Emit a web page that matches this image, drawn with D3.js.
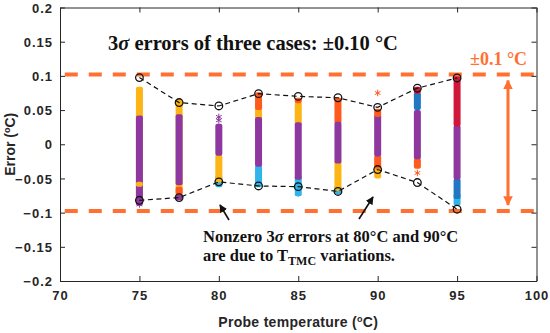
<!DOCTYPE html>
<html lang="en">
<head>
    <meta charset="UTF-8">
    <title>3 sigma errors</title>
    <style>
        body { margin: 0; background: #fff; }
        .tick text { font-family: "Liberation Sans", Arial, sans-serif; font-weight: bold; font-size: 13px; fill: #262626; letter-spacing: 1px; }
        .serif { font-family: "Liberation Serif", "Times New Roman", serif; font-weight: bold; }
    </style>
</head>
<body>
    <svg width="550" height="333"></svg>

    <script src="https://d3js.org/d3.v7.min.js"></script>
    <script>
        // Probe temperatures
        const temps = [75, 77.5, 80, 82.5, 85, 87.5, 90, 92.5, 95];

        // 3 sigma envelope (circles + dashed lines)
        const upper3s = [0.0975, 0.061, 0.056, 0.074, 0.070, 0.068, 0.054, 0.082, 0.097];
        const lower3s = [-0.082, -0.078, -0.055, -0.061, -0.062, -0.069, -0.037, -0.056, -0.095];

        // Scatter columns, read as bands: [temp, colour key, min, max], drawn in order
        const bands = [
            [75, "gold", -0.086, 0.084], [75, "purple", -0.090, 0.042], [75, "gold", -0.062, -0.055],
            [77.5, "gold", -0.080, 0.066], [77.5, "purple", -0.060, 0.044], [77.5, "orange", -0.074, -0.062],
            [77.5, "purple", -0.082, -0.074],
            [80, "lblue", -0.063, -0.045], [80, "gold", -0.056, -0.015], [80, "purple", -0.017, 0.030],
            [82.5, "lblue", -0.063, -0.030], [82.5, "gold", 0.030, 0.060], [82.5, "orange", 0.050, 0.076],
            [82.5, "purple", -0.033, 0.040],
            [85, "lblue", -0.076, -0.045], [85, "gold", 0.028, 0.062], [85, "orange", 0.060, 0.068],
            [85, "purple", -0.052, 0.032],
            [87.5, "lblue", -0.073, -0.060], [87.5, "gold", -0.068, -0.024], [87.5, "orange", 0.030, 0.068],
            [87.5, "purple", -0.028, 0.033],
            [90, "gold", -0.050, -0.028], [90, "orange", -0.036, -0.016], [90, "purple", -0.018, 0.044],
            [90, "orange", 0.040, 0.052],
            [92.5, "orange", -0.036, -0.020], [92.5, "purple", -0.022, 0.050], [92.5, "blue", 0.050, 0.076],
            [92.5, "red", 0.074, 0.084],
            [95, "lblue", -0.090, -0.072], [95, "blue", -0.080, -0.050], [95, "purple", -0.052, 0.028],
            [95, "red", 0.026, 0.101]
        ];

        // Stray asterisks outside the columns: [temp, colour key, value]
        const strays = [[90, "orange", 0.075], [92.5, "orange", -0.042], [80, "purple", 0.040], [80, "purple", 0.035],
                        [85, "lblue", -0.072], [75, "purple", -0.088]];

        const xTicks = [70, 75, 80, 85, 90, 95, 100];
        const yTicks = [-0.2, -0.15, -0.1, -0.05, 0, 0.05, 0.1, 0.15, 0.2];
        const limitLines = [0.102, -0.0975];

        const palette = {
            gold: "#FDB515", purple: "#8E379E", orange: "#FF5A1E", lblue: "#2FB5EA",
            blue: "#1F78C1", red: "#D0173A"
        };

        const svg = d3.select("svg");
        const margin = { left: 60, right: 13.5, top: 7.5, bottom: 52 };
        const W = 550, H = 333;

        const x = d3.scaleLinear().domain([70, 100]).range([margin.left, W - margin.right]);
        const y = d3.scaleLinear().domain([-0.2, 0.2]).range([H - margin.bottom, margin.top]);

        // column bands
        svg.append("g").selectAll("rect")
            .data(bands)
            .enter().append("rect")
            .attr("x", d => x(d[0]) - 3.5)
            .attr("width", 7)
            .attr("y", d => y(d[3]))
            .attr("height", d => y(d[2]) - y(d[3]))
            .attr("rx", 2)
            .attr("fill", d => palette[d[1]]);

        // stray asterisks
        const star = d3.symbol().type(d3.symbolAsterisk).size(30);
        svg.append("g").selectAll("path")
            .data(strays)
            .enter().append("path")
            .attr("d", star)
            .attr("transform", d => `translate(${x(d[0])},${y(d[2])})`)
            .attr("fill", "none")
            .attr("stroke", d => palette[d[1]])
            .attr("stroke-width", 1);

        // orange +/-0.1 limits
        svg.append("g").selectAll("line")
            .data(limitLines)
            .enter().append("line")
            .attr("x1", x(70.3)).attr("x2", x(100))
            .attr("y1", d => y(d)).attr("y2", d => y(d))
            .attr("stroke", "#FF7031")
            .attr("stroke-width", 4)
            .attr("stroke-dasharray", "13,11");

        // envelopes
        const line = d3.line().x((d, i) => x(temps[i])).y(d => y(d));
        [upper3s, lower3s].forEach(arr => {
            svg.append("path")
                .attr("d", line(arr))
                .attr("fill", "none")
                .attr("stroke", "#111")
                .attr("stroke-width", 1.2)
                .attr("stroke-dasharray", "5,3.5");
            svg.append("g").selectAll("circle")
                .data(arr)
                .enter().append("circle")
                .attr("cx", (d, i) => x(temps[i]))
                .attr("cy", d => y(d))
                .attr("r", 3.8)
                .attr("fill", "none")
                .attr("stroke", "#111")
                .attr("stroke-width", 1.3);
        });

        // axes (box with inward ticks)
        const axisColor = "#262626";
        const gx = svg.append("g").attr("transform", `translate(0,${H - margin.bottom})`)
            .call(d3.axisBottom(x).tickValues(xTicks).tickFormat(d3.format("d")).tickSizeInner(-5).tickSizeOuter(0).tickPadding(10));
        const gxt = svg.append("g").attr("transform", `translate(0,${margin.top})`)
            .call(d3.axisTop(x).tickValues(xTicks).tickFormat("").tickSizeInner(-5).tickSizeOuter(0));
        const gy = svg.append("g").attr("transform", `translate(${margin.left},0)`)
            .call(d3.axisLeft(y).tickValues(yTicks).tickFormat(d => d === 0 ? "0" : d3.format("")(+d.toFixed(2))).tickSizeInner(-5).tickSizeOuter(0).tickPadding(7));
        const gyr = svg.append("g").attr("transform", `translate(${W - margin.right},0)`)
            .call(d3.axisRight(y).tickValues(yTicks).tickFormat("").tickSizeInner(-5).tickSizeOuter(0));
        [gx, gxt, gy, gyr].forEach(g => {
            g.selectAll("path, line").attr("stroke", axisColor).attr("stroke-width", 1);
        });
        gy.selectAll("text").attr("dy", "0.35em");

        // axis titles
        const xt = svg.append("text")
            .attr("x", x(85)).attr("y", 327)
            .attr("text-anchor", "middle")
            .style("font-family", "'Liberation Sans', Arial, sans-serif")
            .style("letter-spacing", "0.3px")
            .style("font-weight", "bold").style("font-size", "14px").attr("fill", axisColor);
        xt.append("tspan").text("Probe temperature (");
        xt.append("tspan").attr("dy", -5).style("font-size", "9px").text("o");
        xt.append("tspan").attr("dy", 5).text("C)");

        const yt = svg.append("text")
            .attr("transform", `translate(15,${y(0)}) rotate(-90)`)
            .attr("text-anchor", "middle")
            .style("font-family", "'Liberation Sans', Arial, sans-serif")
            .style("font-weight", "bold").style("font-size", "14px").attr("fill", axisColor);
        yt.append("tspan").text("Error (");
        yt.append("tspan").attr("dy", -5).style("font-size", "9px").text("o");
        yt.append("tspan").attr("dy", 5).text("C)");

        // annotations
        svg.append("text").attr("class", "serif")
            .attr("x", 108).attr("y", 50)
            .style("font-size", "20.5px").attr("fill", "#111")
            .html("3<tspan font-style='italic'>σ</tspan> errors of three cases: ±0.10 °C");

        svg.append("text").attr("class", "serif")
            .attr("x", 470).attr("y", 65)
            .style("font-size", "18px").attr("fill", "#FF7031")
            .text("±0.1 °C");

        const note = svg.append("text").attr("class", "serif")
            .style("font-size", "16.5px").attr("fill", "#111");
        note.append("tspan").attr("x", 203).attr("y", 242)
            .html("Nonzero 3<tspan font-style='italic'>σ</tspan> errors at 80°C and 90°C");
        const l2 = note.append("tspan").attr("x", 203).attr("y", 261);
        l2.append("tspan").text("are due to T");
        l2.append("tspan").attr("dy", 4).style("font-size", "12px").text("TMC");
        l2.append("tspan").attr("dy", -4).text(" variations.");

        // arrows
        const defs = svg.append("defs");
        defs.append("marker").attr("id", "blk").attr("viewBox", "0 0 10 10")
            .attr("refX", 9).attr("refY", 5).attr("markerWidth", 5).attr("markerHeight", 5)
            .attr("orient", "auto")
            .append("path").attr("d", "M0,0 L10,5 L0,10 z").attr("fill", "#111");
        defs.append("marker").attr("id", "org").attr("viewBox", "0 0 10 10")
            .attr("refX", 9).attr("refY", 5).attr("markerWidth", 3.2).attr("markerHeight", 3.2)
            .attr("orient", "auto-start-reverse")
            .append("path").attr("d", "M0,0 L10,5 L0,10 z").attr("fill", "#FF7031");

        const blackArrows = [[[229, 220], [220, 205]], [[359, 219], [373, 197]]];
        svg.append("g").selectAll("line")
            .data(blackArrows)
            .enter().append("line")
            .attr("x1", d => d[0][0]).attr("y1", d => d[0][1])
            .attr("x2", d => d[1][0]).attr("y2", d => d[1][1])
            .attr("stroke", "#111").attr("stroke-width", 1.6)
            .attr("marker-end", "url(#blk)");

        svg.append("line")
            .attr("x1", 508).attr("x2", 508)
            .attr("y1", y(0.102) + 6).attr("y2", y(-0.0975) - 6)
            .attr("stroke", "#FF7031").attr("stroke-width", 3)
            .attr("marker-start", "url(#org)")
            .attr("marker-end", "url(#org)");
    </script>
</body>
</html>
